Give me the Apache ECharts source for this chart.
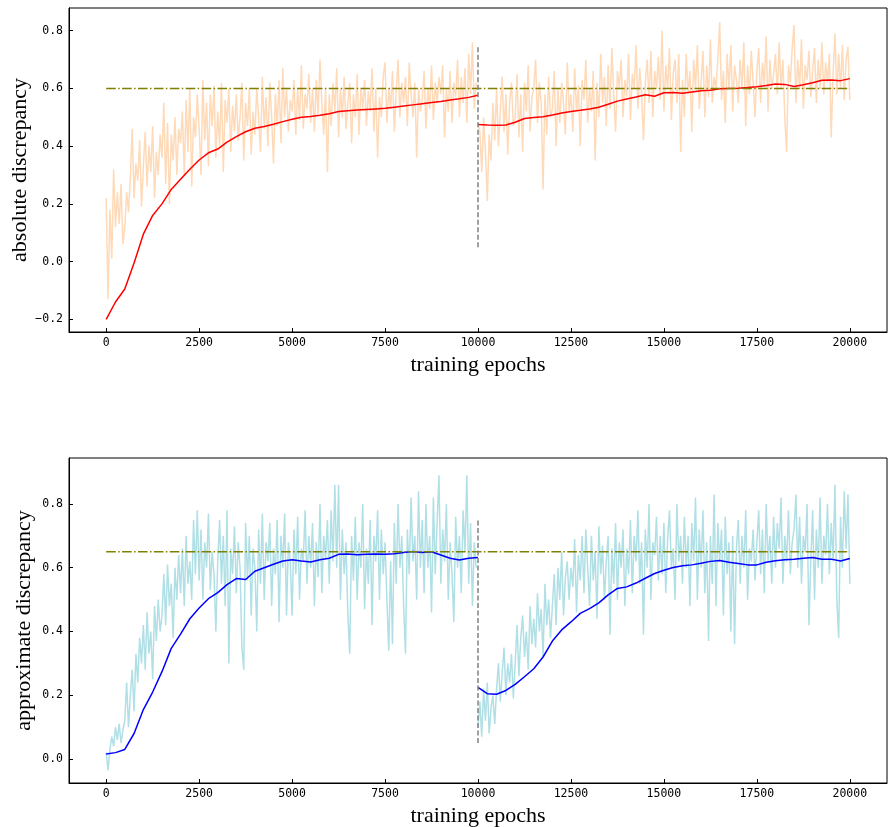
<!DOCTYPE html>
<html><head><meta charset="utf-8">
<script src="https://cdn.jsdelivr.net/npm/echarts@6/dist/echarts.min.js"></script>
<style>html,body{margin:0;padding:0;background:#fff}#c{width:891px;height:827px}</style>
</head><body><div id="c"></div>
<script>
// ---------- data ----------
var xTicks = [0, 2500, 5000, 7500, 10000, 12500, 15000, 17500, 20000];
var yTicksTop = [-0.2, 0.0, 0.2, 0.4, 0.6, 0.8];
var yTicksBottom = [0.0, 0.2, 0.4, 0.6, 0.8];
var noiseStep = 50;     // epochs between noisy samples
var smoothStep = 250;   // epochs between smoothed samples
var switchEpoch = 10000;
var targetTop = 0.6;
var targetBottom = 0.65;
var markerRange = [0.05, 0.75];

// top: absolute discrepancy, raw (0 .. 9950)
var absNoise1 = [
0.22,-0.13,0.18,0.01,0.32,0.12,0.24,0.13,0.27,0.06,
0.12,0.24,0.17,0.29,0.46,0.22,0.34,0.28,0.42,0.19,
0.33,0.45,0.26,0.40,0.31,0.47,0.22,0.38,0.30,0.44,
0.36,0.55,0.27,0.48,0.20,0.44,0.35,0.50,0.30,0.46,
0.41,0.52,0.30,0.56,0.38,0.60,0.26,0.50,0.43,0.58,
0.46,0.30,0.63,0.42,0.55,0.33,0.58,0.47,0.61,0.36,
0.52,0.40,0.62,0.31,0.56,0.48,0.60,0.38,0.54,0.45,
0.58,0.42,0.50,0.62,0.35,0.55,0.47,0.60,0.37,0.52,
0.44,0.60,0.50,0.38,0.64,0.46,0.57,0.40,0.62,0.50,
0.34,0.58,0.47,0.63,0.41,0.67,0.50,0.60,0.45,0.56,
0.52,0.63,0.44,0.60,0.49,0.68,0.46,0.58,0.53,0.65,
0.48,0.60,0.45,0.63,0.51,0.70,0.55,0.44,0.60,0.31,
0.58,0.47,0.62,0.52,0.67,0.43,0.60,0.50,0.64,0.46,
0.55,0.62,0.41,0.58,0.50,0.65,0.44,0.60,0.53,0.63,
0.47,0.59,0.52,0.67,0.45,0.60,0.36,0.57,0.50,0.64,
0.69,0.48,0.60,0.53,0.66,0.45,0.59,0.70,0.50,0.62,
0.55,0.64,0.47,0.69,0.58,0.50,0.62,0.36,0.60,0.52,
0.56,0.66,0.46,0.60,0.53,0.68,0.49,0.62,0.55,0.64,
0.58,0.68,0.43,0.60,0.52,0.66,0.48,0.62,0.57,0.70,
0.50,0.64,0.55,0.67,0.48,0.72,0.58,0.76,0.53,0.62
];
// top: absolute discrepancy, raw (10000 .. 20000)
var absNoise2 = [
0.48,0.45,0.31,0.50,0.38,0.21,0.44,0.35,0.55,0.42,
0.60,0.40,0.52,0.64,0.45,0.58,0.37,0.55,0.62,0.47,
0.50,0.65,0.43,0.58,0.38,0.62,0.52,0.68,0.45,0.57,
0.60,0.70,0.48,0.62,0.55,0.25,0.58,0.44,0.64,0.50,
0.53,0.66,0.40,0.60,0.48,0.62,0.55,0.44,0.69,0.52,
0.58,0.45,0.67,0.52,0.61,0.40,0.63,0.56,0.70,0.48,
0.60,0.52,0.66,0.35,0.62,0.50,0.72,0.55,0.64,0.47,
0.68,0.53,0.74,0.58,0.45,0.66,0.60,0.70,0.50,0.63,
0.57,0.72,0.49,0.65,0.60,0.75,0.53,0.67,0.58,0.42,
0.62,0.70,0.55,0.73,0.50,0.66,0.60,0.71,0.56,0.80,
0.52,0.68,0.60,0.74,0.49,0.65,0.70,0.55,0.72,0.38,
0.63,0.50,0.72,0.58,0.66,0.45,0.70,0.60,0.75,0.53,
0.62,0.73,0.50,0.68,0.57,0.77,0.55,0.64,0.60,0.70,
0.83,0.56,0.66,0.48,0.72,0.60,0.75,0.52,0.68,0.63,
0.55,0.70,0.60,0.76,0.47,0.68,0.58,0.73,0.62,0.50,
0.66,0.74,0.55,0.69,0.61,0.78,0.52,0.70,0.60,0.65,
0.72,0.58,0.76,0.60,0.70,0.50,0.38,0.68,0.62,0.74,
0.82,0.55,0.70,0.60,0.77,0.53,0.68,0.63,0.73,0.57,
0.66,0.74,0.55,0.70,0.60,0.76,0.58,0.69,0.62,0.72,
0.43,0.65,0.79,0.58,0.72,0.60,0.75,0.56,0.70,0.745,
0.56
];
// top: smoothed (0 .. 10000, every 250)
var absSmooth1 = [
-0.200,-0.140,-0.095,-0.005,0.095,0.160,0.200,0.250,0.285,0.320,
0.352,0.377,0.390,0.414,0.433,0.450,0.462,0.468,0.476,0.485,
0.493,0.500,0.503,0.507,0.512,0.520,0.523,0.525,0.527,0.529,
0.531,0.535,0.539,0.543,0.547,0.551,0.555,0.560,0.564,0.569,
0.576
];
// top: smoothed (10000 .. 20000, every 250)
var absSmooth2 = [
0.475,0.473,0.472,0.473,0.483,0.496,0.499,0.502,0.508,0.515,
0.520,0.524,0.529,0.535,0.545,0.556,0.563,0.570,0.578,0.573,
0.585,0.586,0.583,0.588,0.592,0.594,0.599,0.600,0.601,0.603,
0.606,0.610,0.615,0.614,0.607,0.613,0.620,0.628,0.629,0.627,
0.634
];

// bottom: approximate discrepancy, raw (0 .. 9950)
var appNoise1 = [
0.02,-0.035,0.03,0.07,0.04,0.10,0.06,0.11,0.05,0.09,
0.12,0.24,0.10,0.20,0.28,0.15,0.33,0.24,0.38,0.30,
0.42,0.28,0.46,0.33,0.40,0.25,0.48,0.37,0.50,0.40,
0.45,0.58,0.42,0.61,0.48,0.55,0.38,0.60,0.50,0.64,
0.52,0.66,0.48,0.70,0.55,0.62,0.50,0.75,0.58,0.78,
0.56,0.72,0.50,0.68,0.60,0.77,0.53,0.65,0.58,0.40,
0.62,0.75,0.55,0.70,0.48,0.78,0.30,0.66,0.58,0.73,
0.52,0.68,0.60,0.35,0.28,0.74,0.56,0.70,0.45,0.66,
0.60,0.40,0.72,0.55,0.77,0.50,0.68,0.62,0.74,0.48,
0.66,0.58,0.75,0.43,0.70,0.60,0.77,0.45,0.68,0.62,
0.45,0.72,0.58,0.76,0.50,0.66,0.62,0.78,0.55,0.70,
0.60,0.74,0.48,0.68,0.57,0.80,0.52,0.70,0.63,0.75,
0.55,0.78,0.62,0.86,0.60,0.86,0.50,0.72,0.58,0.68,
0.45,0.33,0.70,0.56,0.76,0.50,0.68,0.60,0.80,0.47,
0.66,0.55,0.75,0.42,0.70,0.62,0.78,0.50,0.72,0.58,
0.68,0.50,0.34,0.62,0.36,0.74,0.55,0.80,0.60,0.70,
0.48,0.33,0.72,0.58,0.82,0.62,0.70,0.50,0.84,0.60,
0.75,0.52,0.80,0.60,0.70,0.46,0.82,0.58,0.74,0.89,
0.55,0.72,0.62,0.80,0.50,0.68,0.58,0.43,0.76,0.60,
0.70,0.52,0.78,0.65,0.89,0.55,0.74,0.48,0.68,0.60
];
// bottom: approximate discrepancy, raw (10000 .. 20000)
var appNoise2 = [
0.10,0.18,0.07,0.22,0.12,0.24,0.08,0.16,0.20,0.11,
0.22,0.30,0.18,0.27,0.35,0.20,0.30,0.24,0.33,0.19,
0.30,0.42,0.26,0.38,0.45,0.32,0.40,0.28,0.48,0.36,
0.44,0.35,0.52,0.40,0.47,0.32,0.55,0.42,0.50,0.38,
0.48,0.58,0.42,0.60,0.50,0.65,0.45,0.57,0.62,0.50,
0.60,0.54,0.69,0.46,0.64,0.56,0.70,0.52,0.72,0.60,
0.48,0.70,0.56,0.65,0.44,0.73,0.58,0.67,0.50,0.62,
0.70,0.39,0.66,0.55,0.74,0.50,0.68,0.60,0.72,0.48,
0.66,0.58,0.75,0.52,0.70,0.62,0.78,0.55,0.68,0.39,
0.72,0.60,0.80,0.50,0.68,0.64,0.76,0.56,0.70,0.58,
0.74,0.52,0.69,0.78,0.60,0.66,0.50,0.80,0.62,0.70,
0.55,0.76,0.60,0.70,0.48,0.74,0.62,0.82,0.50,0.72,
0.60,0.78,0.52,0.68,0.37,0.70,0.55,0.83,0.48,0.74,
0.62,0.72,0.45,0.76,0.58,0.68,0.40,0.70,0.36,0.66,
0.75,0.55,0.70,0.60,0.78,0.50,0.66,0.62,0.72,0.56,
0.68,0.78,0.58,0.72,0.52,0.80,0.62,0.70,0.55,0.76,
0.60,0.74,0.66,0.82,0.55,0.70,0.62,0.78,0.58,0.68,
0.72,0.83,0.60,0.76,0.55,0.70,0.65,0.80,0.42,0.62,
0.78,0.50,0.72,0.60,0.82,0.55,0.70,0.64,0.80,0.58,
0.74,0.62,0.86,0.50,0.38,0.76,0.60,0.84,0.66,0.83,
0.55
];
// bottom: smoothed (0 .. 10000, every 250)
var appSmooth1 = [
0.016,0.020,0.030,0.080,0.155,0.210,0.274,0.347,0.392,0.440,
0.474,0.503,0.522,0.547,0.566,0.563,0.589,0.600,0.611,0.621,
0.625,0.621,0.618,0.625,0.630,0.642,0.643,0.641,0.642,0.643,
0.642,0.644,0.648,0.651,0.648,0.650,0.640,0.630,0.624,0.630,
0.632
];
// bottom: smoothed (10000 .. 20000, every 250)
var appSmooth2 = [
0.225,0.205,0.203,0.215,0.234,0.258,0.283,0.320,0.370,0.405,
0.430,0.457,0.472,0.490,0.515,0.535,0.540,0.552,0.567,0.582,
0.592,0.601,0.606,0.609,0.614,0.620,0.623,0.617,0.613,0.609,
0.609,0.617,0.622,0.625,0.627,0.630,0.632,0.627,0.627,0.621,
0.629
];

// ---------- helpers ----------
function pairs(arr, start, step) { return arr.map(function (v, i) { return [start + i * step, v]; }); }
function fmtY(v) { var s = (Math.round(v * 10) / 10).toFixed(1); return s.replace('-', '\u2212'); }
function fmtX(v) { return String(Math.round(v)); }

var labelFont = { fontFamily: 'DejaVu Sans Mono', fontSize: 11.5, color: '#000' };
var nameFont = { fontFamily: 'Liberation Serif', fontSize: 22, color: '#000' };
var dashDot = [9.6, 2.4, 1.5, 2.4];

function xAxisCfg(gi) {
  return {
    gridIndex: gi, type: 'value', min: -1000, max: 21000,
    name: 'training epochs', nameLocation: 'middle', nameGap: 22, nameTextStyle: nameFont,
    axisLine: { show: true, onZero: false, lineStyle: { color: '#000', width: 1 } },
    axisTick: { show: true, inside: true, length: 4, customValues: xTicks, lineStyle: { color: '#000' } },
    axisLabel: Object.assign({ margin: 5, customValues: xTicks, formatter: fmtX }, labelFont),
    splitLine: { show: false }
  };
}
function yAxisCfg(gi, mn, mx, ticks, name, gap) {
  return {
    gridIndex: gi, type: 'value', min: mn, max: mx,
    name: name, nameLocation: 'middle', nameGap: gap, nameMoveOverlap: false, nameTextStyle: nameFont,
    axisLine: { show: true, onZero: false, lineStyle: { color: '#000', width: 1 } },
    axisTick: { show: true, inside: true, length: 4, customValues: ticks, lineStyle: { color: '#000' } },
    axisLabel: Object.assign({ margin: 6, customValues: ticks, formatter: fmtY }, labelFont),
    splitLine: { show: false }
  };
}
function lineSeries(ai, data, color, width, z, type) {
  return {
    type: 'line', xAxisIndex: ai, yAxisIndex: ai, data: data, showSymbol: false, symbol: 'none',
    lineStyle: { color: color, width: width, type: type || 'solid' }, z: z, silent: true
  };
}

var chart = echarts.init(document.getElementById('c'), null, { renderer: 'canvas' });
chart.setOption({
  animation: false,
  backgroundColor: '#fff',
  grid: [
    { left: 69, top: 8, width: 818, height: 324, show: true, borderColor: '#000', borderWidth: 1, outerBoundsMode: 'none', containLabel: false },
    { left: 69, top: 458, width: 818, height: 325, show: true, borderColor: '#000', borderWidth: 1, outerBoundsMode: 'none', containLabel: false }
  ],
  xAxis: [xAxisCfg(0), xAxisCfg(1)],
  yAxis: [
    yAxisCfg(0, -0.244, 0.8787, yTicksTop, 'absolute discrepancy', 38),
    yAxisCfg(1, -0.0753, 0.9443, yTicksBottom, 'approximate discrepancy', 34)
  ],
  series: [
    lineSeries(0, pairs(absNoise1, 0, noiseStep), '#FFDAB9', 1.5, 1),
    lineSeries(0, pairs(absNoise2, switchEpoch, noiseStep), '#FFDAB9', 1.5, 1),
    lineSeries(0, pairs(absSmooth1, 0, smoothStep), '#FF0000', 1.5, 2),
    lineSeries(0, pairs(absSmooth2, switchEpoch, smoothStep), '#FF0000', 1.5, 2),
    lineSeries(0, [[0, targetTop], [20000, targetTop]], '#808000', 1.5, 3, dashDot),
    lineSeries(0, [[switchEpoch, markerRange[0]], [switchEpoch, markerRange[1]]], '#808080', 1.5, 4, [5, 2.5]),
    lineSeries(1, pairs(appNoise1, 0, noiseStep), '#B0E0E6', 1.5, 1),
    lineSeries(1, pairs(appNoise2, switchEpoch, noiseStep), '#B0E0E6', 1.5, 1),
    lineSeries(1, pairs(appSmooth1, 0, smoothStep), '#0000FF', 1.5, 2),
    lineSeries(1, pairs(appSmooth2, switchEpoch, smoothStep), '#0000FF', 1.5, 2),
    lineSeries(1, [[0, targetBottom], [20000, targetBottom]], '#808000', 1.5, 3, dashDot),
    lineSeries(1, [[switchEpoch, markerRange[0]], [switchEpoch, markerRange[1]]], '#808080', 1.5, 4, [5, 2.5])
  ]
});
</script></body></html>
